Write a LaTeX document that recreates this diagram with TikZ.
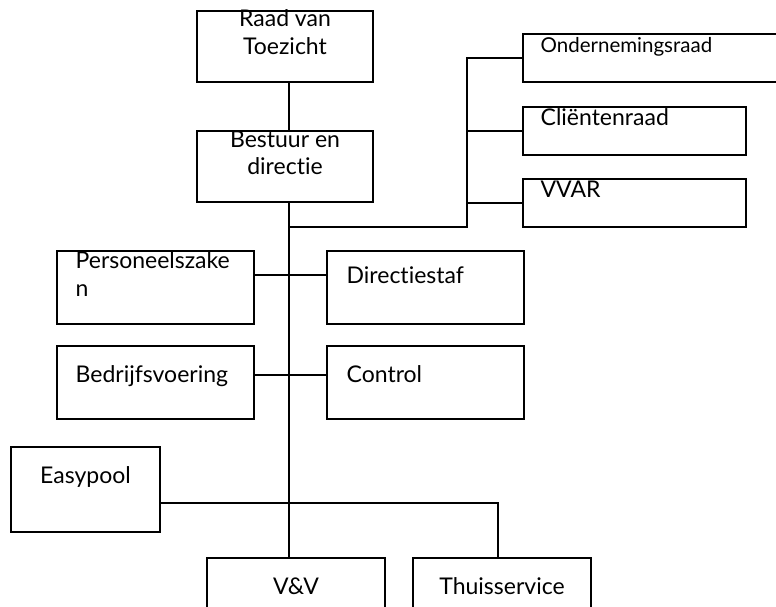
\documentclass[tikz,border=0pt]{standalone}
\usepackage{fontspec}
\setmainfont{Lato}[Ligatures=NoCommon]
\usepackage{tikz}
\usetikzlibrary{positioning}

\begin{document}
\begin{tikzpicture}[x=1pt,y=-1pt,line width=1.3pt,
    unit/.style={draw,rectangle,inner sep=0pt},
    lbl/.style={inner sep=0pt,font=\fontsize{23}{28}\selectfont}]
          \useasboundingbox (0,0) rectangle (776,607);
          \clip (0,0) rectangle (776,607);
          % boxes
          \node[unit,minimum width=176,minimum height=71] (rvt) at (285,46.5) {};
          \node[unit,minimum width=176,minimum height=71] (bd) at (285,166.5) {};
          \node[unit,minimum width=277,minimum height=48] (or) at (661.5,58) {};
          \node[unit,minimum width=223,minimum height=48] (cr) at (634.5,131) {};
          \node[unit,minimum width=223,minimum height=48] (vvar) at (634.5,203) {};
          \node[unit,minimum width=197,minimum height=73] (pz) at (155.5,287.5) {};
          \node[unit,minimum width=197,minimum height=73] (ds) at (425.5,287.5) {};
          \node[unit,minimum width=197,minimum height=73] (bv) at (155.5,382.5) {};
          \node[unit,minimum width=197,minimum height=73] (ct) at (425.5,382.5) {};
          \node[unit,minimum width=149,minimum height=85] (ep) at (85.5,489.5) {};
          \node[unit,minimum width=178,minimum height=72] (vv) at (296,594) {};
          \node[unit,minimum width=178,minimum height=72] (ts) at (502,594) {};
          % texts (base of a two-line text is its last line)
          \node[lbl,anchor=base,align=center] (rvt-t) at (285,55) {Raad van\\Toezicht};
          \node[lbl,anchor=base,align=center] (bd-t) at (285,175) {Bestuur en\\directie};
          \node[lbl,anchor=base west,font=\fontsize{20.5}{28}\selectfont] (or-t) at (540,53) {Ondernemingsraad};
          \node[lbl,anchor=base west] (cr-t) at (540,126) {Cliëntenraad};
          \node[lbl,anchor=base west] (vvar-t) at (540,197) {VVAR};
          \node[lbl,anchor=base west,align=left] (pz-t) at (75,296) {Personeelszake\\n};
          \node[lbl,anchor=base west] (ds-t) at (346,283) {Directiestaf};
          \node[lbl,anchor=base west] (bv-t) at (75,382) {Bedrijfsvoering};
          \node[lbl,anchor=base west] (ct-t) at (346,382) {Control};
          \node[lbl,anchor=base] (ep-t) at (85.5,483) {Easypool};
          \node[lbl,anchor=base] (vv-t) at (296,594) {V\&V};
          \node[lbl,anchor=base] (ts-t) at (502,594) {Thuisservice};
          % connectors
          \coordinate (spine) at (289,227);
          \coordinate (rbus) at (467,227);
          \draw (rvt.south -| spine) -- (bd.north -| spine);
          \draw (bd.south -| spine) -- (vv.north -| spine);
          \draw (spine) -- (rbus) -- (rbus |- or.west) -- (or.west);
          \draw (rbus |- cr.west) -- (cr.west);
          \draw (rbus |- vvar.west) -- (vvar.west);
          \draw ([yshift=12.5pt]pz.east) -- ([yshift=12.5pt]ds.west);
          \draw ([yshift=7.5pt]bv.east) -- ([yshift=7.5pt]ct.west);
          \draw ([yshift=-13.5pt]ep.east) -| ([xshift=-4pt]ts.north);
        \end{tikzpicture}
\end{document}
